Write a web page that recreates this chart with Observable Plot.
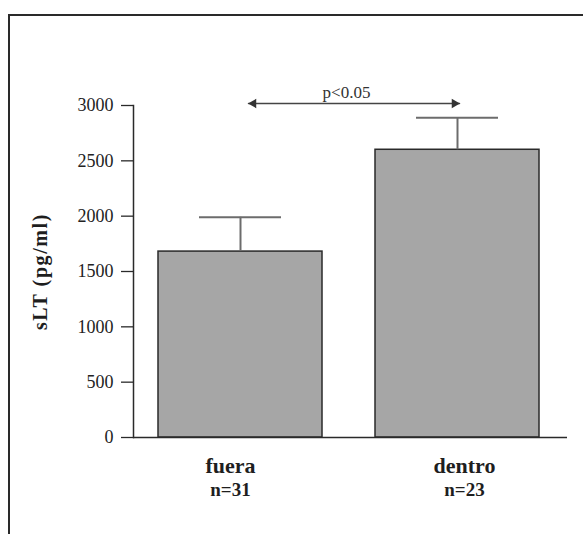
<!DOCTYPE html>
<html>
<head>
<meta charset="utf-8">
<script src="https://cdn.jsdelivr.net/npm/d3@7"></script>
<script src="https://cdn.jsdelivr.net/npm/@observablehq/plot@0.6"></script>
<style>
  html, body { margin: 0; padding: 0; background: #fff; }
  #wrap { position: relative; width: 583px; height: 534px; overflow: hidden; }
  #border { position: absolute; left: 8px; top: 14px; right: -4px; bottom: -4px;
            border-left: 2px solid #2a2a2a; border-top: 2px solid #2a2a2a; pointer-events: none; }
</style>
</head>
<body>
<div id="wrap"><div id="border"></div></div>
<script>
// ---- data ----
const groups = ["fuera", "dentro"];
const means = [1680, 2600];
const uppers = [1990, 2890];
const nLabels = ["n=31", "n=23"];
const yTicks = [0, 500, 1000, 1500, 2000, 2500, 3000];
const yLabel = "sLT (pg/ml)";
const pLabel = "p<0.05";
const pLineValue = 3018;
const pTextValue = 3072;

const bars = groups.map((g, i) => ({ group: g, mean: means[i], upper: uppers[i], n: nLabels[i] }));
const annot = [{ from: groups[0], to: groups[1], y: pLineValue, ty: pTextValue, label: pLabel }];

const serif = "'Liberation Serif', 'Times New Roman', serif";
const ink = "#2a2a2a";
const errColor = "#6c6c6c";
const labelDx = [-10, 7];

const chart = Plot.plot({
  width: 583,
  height: 534,
  marginLeft: 133,
  marginRight: 16,
  marginTop: 105,
  marginBottom: 97,
  style: { background: "transparent", fontFamily: serif, color: "#222" },
  x: { type: "band", domain: groups, range: [158, 540], paddingInner: 0.243, paddingOuter: 0, axis: null },
  y: { domain: [0, 3000], axis: null },
  marks: [
    Plot.barY(bars, { x: "group", y: "mean", fill: "#a6a6a6", stroke: ink, strokeWidth: 1.5 }),
    Plot.ruleX(bars, { x: "group", y1: "mean", y2: "upper", stroke: errColor, strokeWidth: 2 }),
    Plot.tickY(bars, { x: "group", y: "upper", insetLeft: 41, insetRight: 41, stroke: errColor, strokeWidth: 2 }),
    Plot.ruleY([0], { stroke: ink, strokeWidth: 1.5 }),
    Plot.frame({ anchor: "left", stroke: ink, strokeWidth: 1.5 }),
    Plot.axisY(yTicks, { tickSize: 12, tickPadding: 8, fontSize: 18, fontFamily: serif,
      tickFormat: d => String(d), label: null, stroke: ink, strokeWidth: 1.3 }),
    Plot.text([yLabel], { text: d => d, frameAnchor: "left", textAnchor: "middle", dx: -93, rotate: -90,
      fontSize: 20, fontWeight: "bold", fontFamily: serif, fill: "#1e1e1e" }),
    ...groups.map((g, i) => Plot.text(bars.filter(d => d.group === g), {
      x: "group", text: "group", frameAnchor: "bottom", lineAnchor: "bottom", dy: 35, dx: labelDx[i],
      fontSize: 22, fontWeight: "bold", fontFamily: serif, fill: "#1e1e1e" })),
    ...groups.map((g, i) => Plot.text(bars.filter(d => d.group === g), {
      x: "group", text: "n", frameAnchor: "bottom", lineAnchor: "bottom", dy: 58, dx: labelDx[i],
      fontSize: 19, fontWeight: "bold", fontFamily: serif, fill: "#1e1e1e" })),
    Plot.arrow(annot, { x1: "from", x2: "to", y1: "y", y2: "y", insetStart: 8, insetEnd: -2,
      headLength: 0, stroke: "#444", strokeWidth: 1.5 }),
    Plot.dot(annot, { x: "from", y: "y", symbol: "triangle", r: 3.5, rotate: -90, dx: 13, fill: "#333", stroke: "none" }),
    Plot.dot(annot, { x: "to", y: "y", symbol: "triangle", r: 3.5, rotate: 90, dx: -3, fill: "#333", stroke: "none" }),
    Plot.text(annot, { x: "from", y: "ty", text: "label", dx: 106, lineAnchor: "bottom",
      fontSize: 17, fontFamily: serif, fill: "#333" })
  ]
});

d3.select(chart).selectAll("text")
  .filter(function () { return this.textContent === yLabel; })
  .attr("letter-spacing", "1.6px");

document.getElementById("wrap").prepend(chart);
</script>
</body>
</html>
